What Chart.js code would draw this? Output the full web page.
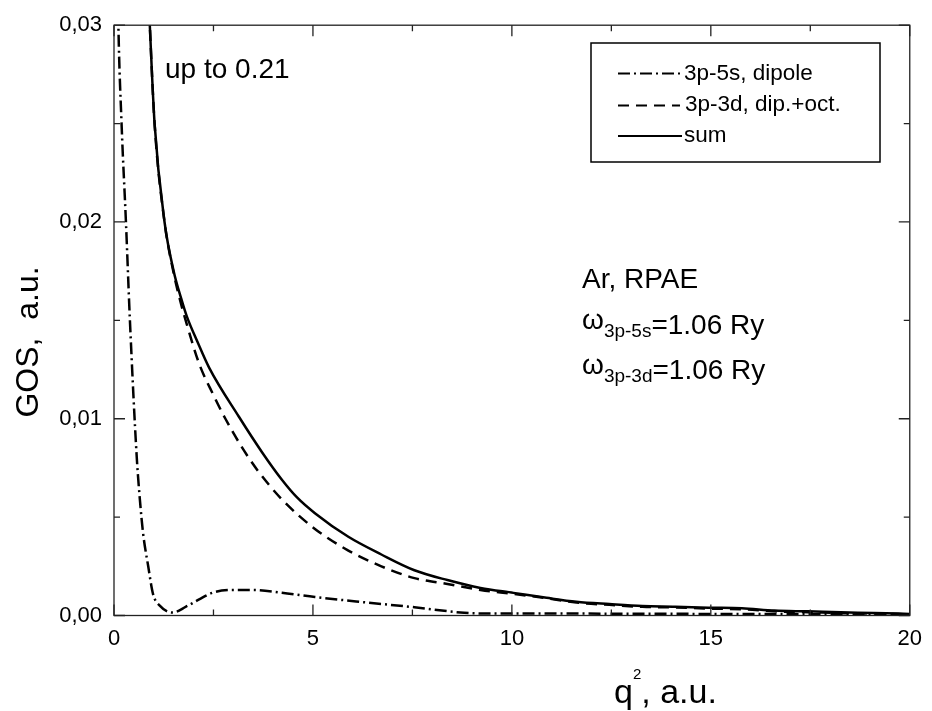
<!DOCTYPE html>
<html>
<head>
<meta charset="utf-8">
<script src="https://cdn.jsdelivr.net/npm/chart.js@4.4.0/dist/chart.umd.min.js"></script>
<style>
  html, body { margin: 0; padding: 0; background: #fff; }
  #wrap { position: relative; width: 932px; height: 711px; }
  #c { position: absolute; left: 0; top: 0; }
  #notes { position: absolute; left: 0; top: 0; pointer-events: none;
           font-family: "Liberation Sans", Arial, Helvetica, sans-serif; fill: #000; }
</style>
</head>
<body>
<div id="wrap">
  <canvas id="c" width="932" height="711"></canvas>
  <svg id="notes" width="932" height="711" xmlns="http://www.w3.org/2000/svg">
    <text x="165" y="78" font-size="28">up to 0.21</text>

    <rect x="591" y="43" width="289" height="119" fill="none" stroke="#000" stroke-width="1.5"/>
    <g id="legendLines"></g>
    <text x="684" y="80" font-size="22.5">3p-5s, dipole</text>
    <text x="685" y="111" font-size="22.5">3p-3d, dip.+oct.</text>
    <text x="684" y="142" font-size="22.5">sum</text>

    <text x="582" y="288" font-size="28">Ar, RPAE</text>
    <text x="582" y="334" font-size="28"><tspan dy="-5">ω</tspan><tspan dy="8" font-size="19">3p-5s</tspan><tspan dy="-3">=1.06 Ry</tspan></text>
    <text x="582" y="379" font-size="28"><tspan dy="-5">ω</tspan><tspan dy="8" font-size="19">3p-3d</tspan><tspan dy="-3">=1.06 Ry</tspan></text>

    <text x="614" y="703" font-size="34">q<tspan dy="-24" font-size="15">2</tspan><tspan dy="24">, a.u.</tspan></text>
    <text transform="translate(38,342) rotate(-90)" text-anchor="middle" font-size="32">GOS,&#160; a.u.</text>
  </svg>
</div>
<script>
// 3p-5s, dipole (dash-dot)
const q2_5s  = [0.08, 0.11, 0.19, 0.30, 0.40, 0.57, 0.65, 0.73, 0.86, 0.98, 1.15, 1.48, 1.81, 2.14, 2.48, 2.98, 3.47, 4.22, 5.05, 6.30, 7.55, 8.80, 9.60, 11.0, 13.0, 15.0, 17.0, 20.0];
const gos_5s = [0.034, 0.030, 0.025, 0.020, 0.015, 0.0081, 0.0059, 0.0042, 0.0025, 0.0011, 0.0005, 0.00015, 0.00045, 0.00082, 0.00116, 0.0013, 0.0013, 0.00116, 0.00094, 0.00067, 0.00042, 0.00014, 0.0001, 0.0001, 0.00009, 0.00008, 0.00007, 0.00004];

// 3p-3d, dip.+oct. (dashed)
const q2_3d  = [0.85, 0.90, 1.02, 1.27, 1.50, 1.69, 1.83, 2.14, 2.50, 2.80, 3.20, 3.60, 4.22, 5.05, 5.89, 6.72, 7.55, 8.38, 9.21, 10.04, 10.87, 11.62, 12.45, 13.28, 14.11, 14.94, 15.78, 16.60, 17.44, 18.27, 19.10, 20.0];
const gos_3d = [0.0325, 0.030, 0.025, 0.020, 0.0174, 0.0158, 0.0148, 0.0128, 0.0112, 0.0100, 0.0086, 0.0074, 0.0059, 0.0044, 0.0033, 0.0025, 0.0019, 0.0016, 0.0013, 0.0011, 0.00088, 0.00066, 0.00054, 0.00044, 0.00041, 0.00035, 0.00032, 0.00021, 0.00017, 0.00012, 0.0001, 0.00006];

// sum (solid)
const q2_sum  = [0.85, 0.90, 1.02, 1.27, 1.50, 1.69, 1.83, 2.10, 2.39, 3.14, 3.72, 4.22, 4.60, 5.05, 5.89, 6.72, 7.55, 8.38, 9.21, 10.04, 10.87, 11.62, 12.45, 13.28, 14.11, 14.94, 15.78, 16.60, 17.44, 18.27, 19.10, 20.0];
const gos_sum = [0.0325, 0.030, 0.025, 0.020, 0.0175, 0.0161, 0.0152, 0.0139, 0.0126, 0.0101, 0.0083, 0.0069, 0.0060, 0.0052, 0.0040, 0.0031, 0.0023, 0.0018, 0.0014, 0.00115, 0.0009, 0.0007, 0.00058, 0.00048, 0.00045, 0.0004, 0.00037, 0.00025, 0.00021, 0.00016, 0.00013, 0.00008];

const xTicks = [0, 5, 10, 15, 20];
const xMinor = [2.5, 7.5, 12.5, 17.5];
const yTicks = [0, 0.01, 0.02, 0.03];
const yMinor = [0.005, 0.015, 0.025];

const FONT = '"Liberation Sans", Arial, Helvetica, sans-serif';
const DASH_5S = [12, 4, 2, 4];
const DASH_3D = [11, 7];

function pts(xs, ys) {
  return xs.map((x, i) => ({ x: x, y: ys[i] }));
}

// frame with inward ticks on all four sides
const frame = {
  id: 'frame',
  afterDatasetsDraw(chart) {
    const ctx = chart.ctx, a = chart.chartArea;
    const sx = chart.scales.x, sy = chart.scales.y;
    ctx.save();
    ctx.setLineDash([]);
    ctx.strokeStyle = '#222';
    ctx.lineWidth = 1.3;
    ctx.strokeRect(a.left, a.top, a.right - a.left, a.bottom - a.top);
    ctx.beginPath();
    const tx = (v, len) => {
      const p = sx.getPixelForValue(v);
      ctx.moveTo(p, a.bottom); ctx.lineTo(p, a.bottom - len);
      ctx.moveTo(p, a.top); ctx.lineTo(p, a.top + len);
    };
    const ty = (v, len) => {
      const p = sy.getPixelForValue(v);
      ctx.moveTo(a.left, p); ctx.lineTo(a.left + len, p);
      ctx.moveTo(a.right, p); ctx.lineTo(a.right - len, p);
    };
    xTicks.forEach(v => tx(v, 11));
    xMinor.forEach(v => tx(v, 6));
    yTicks.forEach(v => ty(v, 11));
    yMinor.forEach(v => ty(v, 6));
    ctx.stroke();
    ctx.restore();
  }
};

const common = {
  borderColor: '#000',
  borderWidth: 2.5,
  pointRadius: 0,
  fill: false,
  cubicInterpolationMode: 'monotone',
  clip: 0
};

const chart = new Chart(document.getElementById('c'), {
  type: 'line',
  data: {
    datasets: [
      Object.assign({ label: 'sum', data: pts(q2_sum, gos_sum) }, common),
      Object.assign({ label: '3p-3d, dip.+oct.', data: pts(q2_3d, gos_3d), borderDash: DASH_3D }, common),
      Object.assign({ label: '3p-5s, dipole', data: pts(q2_5s, gos_5s), borderDash: DASH_5S }, common)
    ]
  },
  options: {
    responsive: false,
    devicePixelRatio: 1,
    animation: false,
    layout: { padding: { left: 0, top: 25, right: 16, bottom: 0 } },
    plugins: { legend: { display: false }, tooltip: { enabled: false } },
    scales: {
      x: {
        type: 'linear',
        min: 0, max: 20,
        grid: { display: false, drawTicks: false },
        border: { display: false },
        afterBuildTicks: s => { s.ticks = xTicks.map(v => ({ value: v })); },
        afterFit: s => { s.height = 95.5; },
        ticks: {
          color: '#000', padding: 10, maxRotation: 0,
          font: { family: FONT, size: 22 },
          callback: v => String(v)
        }
      },
      y: {
        min: 0, max: 0.03,
        grid: { display: false, drawTicks: false },
        border: { display: false },
        afterBuildTicks: s => { s.ticks = yTicks.map(v => ({ value: v })); },
        afterFit: s => { s.width = 114; },
        ticks: {
          color: '#000', padding: 12,
          font: { family: FONT, size: 22 },
          callback: v => v.toFixed(2).replace('.', ',')
        }
      }
    }
  },
  plugins: [frame]
});

// legend line samples, styled like the datasets
const legendRows = [
  { y: 73.5, dash: DASH_5S, x2: 682 },
  { y: 105.5, dash: DASH_3D, x2: 680 },
  { y: 136, dash: [], x2: 682 }
];
const g = document.getElementById('legendLines');
legendRows.forEach(r => {
  const ln = document.createElementNS('http://www.w3.org/2000/svg', 'line');
  ln.setAttribute('x1', 618); ln.setAttribute('x2', r.x2);
  ln.setAttribute('y1', r.y); ln.setAttribute('y2', r.y);
  ln.setAttribute('stroke', '#000');
  ln.setAttribute('stroke-width', 2);
  if (r.dash.length) ln.setAttribute('stroke-dasharray', r.dash.join(' '));
  g.appendChild(ln);
});
</script>
</body>
</html>
